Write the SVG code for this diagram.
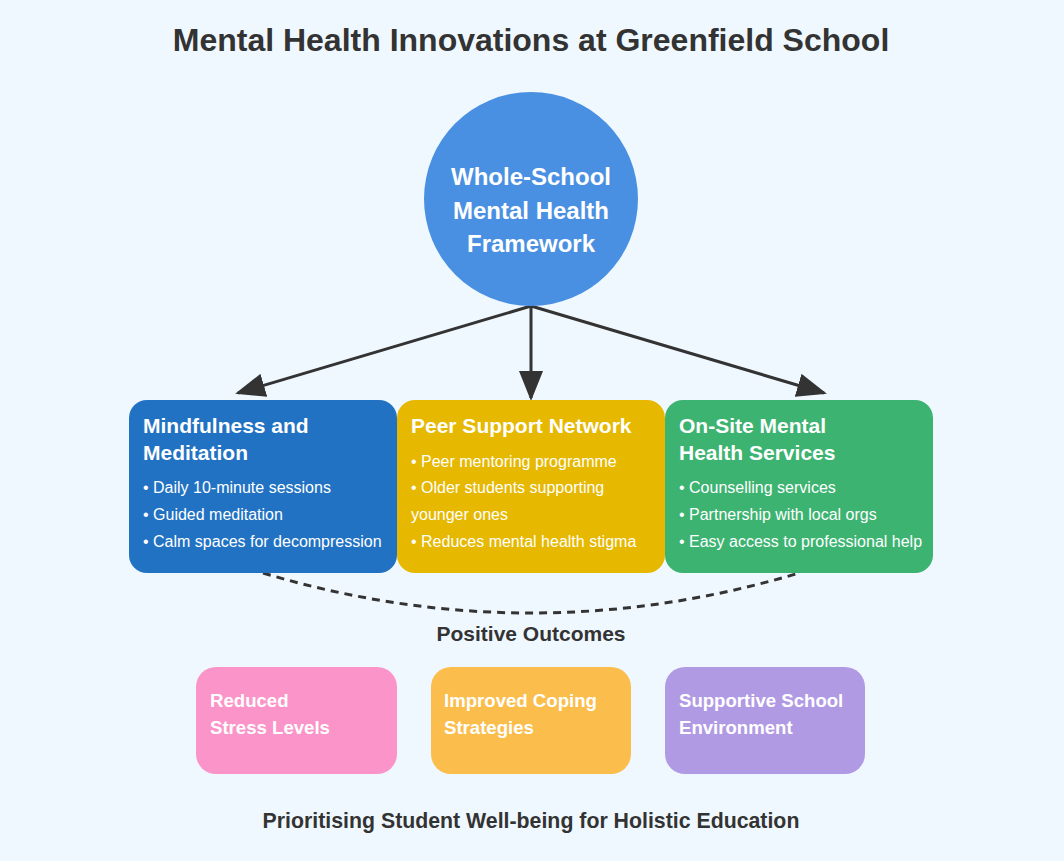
<svg xmlns="http://www.w3.org/2000/svg" width="1064" height="861" viewBox="0 0 1064 861">
<style>
  text { font-family: "Liberation Sans", Arial, sans-serif; }
  .title { font-size: 32px; font-weight: bold; fill: #333333; }
  .ctext { font-size: 24px; font-weight: bold; fill: #ffffff; }
  .htext { font-size: 21px; font-weight: bold; fill: #ffffff; }
  .btext { font-size: 16px; fill: #ffffff; }
  .otext { font-size: 18.6px; font-weight: bold; fill: #ffffff; }
  .label { font-size: 21px; font-weight: bold; fill: #333333; }
  .footer { font-size: 21.3px; font-weight: bold; fill: #333333; }
  .arrow { stroke: #333333; stroke-width: 3; fill: none; }
</style>
<defs>
  <marker id="ah" markerWidth="10" markerHeight="8" refX="9" refY="4" orient="auto" markerUnits="strokeWidth">
    <polygon points="0,0 10,4 0,8" fill="#333333"/>
  </marker>
</defs>
<rect x="0" y="0" width="1064" height="861" fill="#f0f8ff"/>
<text class="title" x="531" y="51" text-anchor="middle">Mental Health Innovations at Greenfield School</text>

<g id="connectors">
  <line class="arrow" x1="531" y1="306" x2="238" y2="393" marker-end="url(#ah)"/>
  <line class="arrow" x1="531" y1="306" x2="531" y2="398" marker-end="url(#ah)"/>
  <line class="arrow" x1="531" y1="306" x2="824" y2="393" marker-end="url(#ah)"/>
  <path d="M263,573 Q531,653 799,573" stroke="#333333" stroke-width="3" stroke-dasharray="8,6" fill="none"/>
</g>

<g id="framework">
  <circle cx="531" cy="199" r="107" fill="#4a90e2"/>
  <text class="ctext" x="531" y="185" text-anchor="middle">Whole-School</text>
  <text class="ctext" x="531" y="219" text-anchor="middle">Mental Health</text>
  <text class="ctext" x="531" y="252" text-anchor="middle">Framework</text>
</g>

<g id="mindfulness">
  <rect x="129" y="400" width="268" height="173" rx="18" fill="#2172c3"/>
  <text class="htext" x="143" y="433">Mindfulness and</text>
  <text class="htext" x="143" y="460">Meditation</text>
  <text class="btext" x="143" y="493">• Daily 10-minute sessions</text>
  <text class="btext" x="143" y="520">• Guided meditation</text>
  <text class="btext" x="143" y="547">• Calm spaces for decompression</text>
</g>

<g id="peer">
  <rect x="397" y="400" width="268" height="173" rx="18" fill="#e6b800"/>
  <text class="htext" x="411" y="433">Peer Support Network</text>
  <text class="btext" x="411" y="467">• Peer mentoring programme</text>
  <text class="btext" x="411" y="493">• Older students supporting</text>
  <text class="btext" x="411" y="520">younger ones</text>
  <text class="btext" x="411" y="547">• Reduces mental health stigma</text>
</g>

<g id="onsite">
  <rect x="665" y="400" width="268" height="173" rx="18" fill="#3cb371"/>
  <text class="htext" x="679" y="433">On-Site Mental</text>
  <text class="htext" x="679" y="460">Health Services</text>
  <text class="btext" x="679" y="493">• Counselling services</text>
  <text class="btext" x="679" y="520">• Partnership with local orgs</text>
  <text class="btext" x="679" y="547">• Easy access to professional help</text>
</g>

<text class="label" x="531" y="641" text-anchor="middle">Positive Outcomes</text>

<g id="stress">
  <rect x="196" y="667" width="201" height="107" rx="20" fill="#fb94c8"/>
  <text class="otext" x="210" y="707">Reduced</text>
  <text class="otext" x="210" y="734">Stress Levels</text>
</g>
<g id="coping">
  <rect x="431" y="667" width="200" height="107" rx="20" fill="#fbbd4b"/>
  <text class="otext" x="444" y="707">Improved Coping</text>
  <text class="otext" x="444" y="734">Strategies</text>
</g>
<g id="supportive">
  <rect x="665" y="667" width="200" height="107" rx="20" fill="#b19ae4"/>
  <text class="otext" x="679" y="707">Supportive School</text>
  <text class="otext" x="679" y="734">Environment</text>
</g>

<text class="footer" x="531" y="828" text-anchor="middle">Prioritising Student Well-being for Holistic Education</text>
</svg>
